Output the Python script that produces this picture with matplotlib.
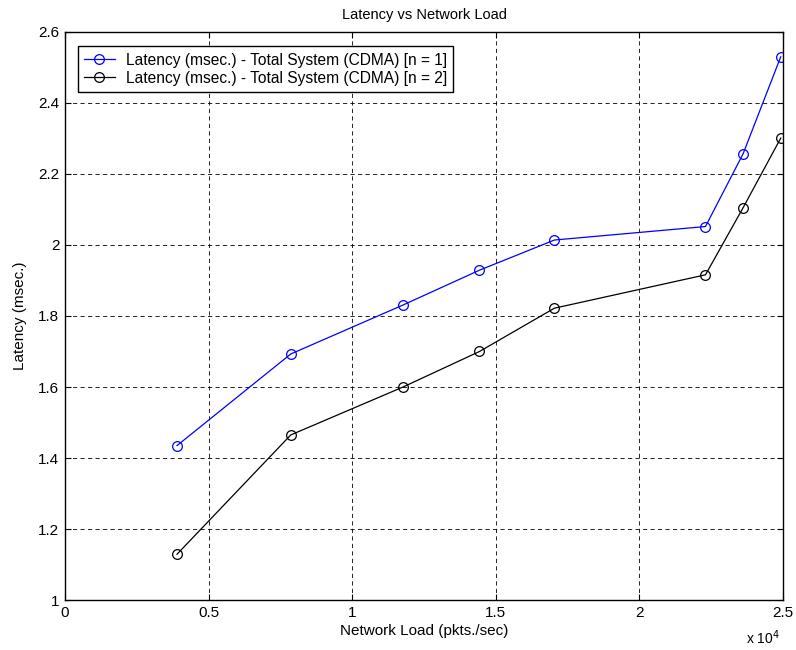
import matplotlib
matplotlib.use("Agg")
import matplotlib.pyplot as plt

# network load (pkts./sec)
load = [3900, 7860, 11770, 14430, 17040, 22300, 23610, 24920]
# latency (msec.)
latency_n1 = [1.435, 1.693, 1.831, 1.929, 2.014, 2.052, 2.257, 2.530]
latency_n2 = [1.129, 1.465, 1.600, 1.700, 1.822, 1.916, 2.105, 2.301]

labels = ["Latency (msec.) - Total System (CDMA) [n = 1]",
          "Latency (msec.) - Total System (CDMA) [n = 2]"]
xticks = [0, 5000, 10000, 15000, 20000, 25000]
xticklabels = ["0", "0.5", "1", "1.5", "2", "2.5"]
yticks = [1, 1.2, 1.4, 1.6, 1.8, 2, 2.2, 2.4, 2.6]
yticklabels = ["1", "1.2", "1.4", "1.6", "1.8", "2", "2.2", "2.4", "2.6"]

plt.rcParams['font.family'] = ['Liberation Sans', 'DejaVu Sans']
plt.rcParams['font.size'] = 11

fig = plt.figure(figsize=(7.96, 6.5), dpi=100)
ax = fig.add_axes([0.0817, 0.0769, 0.9020, 0.8739])

ax.plot(load, latency_n1, color='#0000ff', lw=0.9, marker='o', ms=7,
        mfc='none', mec='#0000ff', mew=0.9, label=labels[0])
ax.plot(load, latency_n2, color='black', lw=0.9, marker='o', ms=7,
        mfc='none', mec='black', mew=0.9, label=labels[1])

ax.set_xlim(0, 25000)
ax.set_ylim(1, 2.6)
ax.set_xticks(xticks)
ax.set_xticklabels(xticklabels)
ax.set_yticks(yticks)
ax.set_yticklabels(yticklabels)
ax.tick_params(direction='in', top=True, right=True, length=4, width=0.8,
               labelsize=11, pad=4)
for s in ax.spines.values():
    s.set_linewidth(1.0)

ax.grid(True, color='black', linestyle=(0, (5, 4)), linewidth=0.6)
ax.set_axisbelow(True)

ax.set_title("Latency vs Network Load", fontsize=10.5, pad=9)
ax.set_xlabel("Network Load (pkts./sec)", fontsize=11, labelpad=3)
ax.set_ylabel("Latency (msec.)", fontsize=11, labelpad=8)
ax.text(0.996, -0.05, r"x 10$^4$", transform=ax.transAxes, ha='right',
        va='top', fontsize=10)

leg = ax.legend(loc='upper left', bbox_to_anchor=(0.0175, 0.9745), fontsize=11.2,
                frameon=True, fancybox=False, edgecolor='black',
                borderpad=0.4, labelspacing=0.2, handlelength=2.0,
                handletextpad=0.7, borderaxespad=0.0)
leg.get_frame().set_linewidth(1.0)
leg.get_frame().set_alpha(1.0)

fig.savefig("out.png", dpi=100)
